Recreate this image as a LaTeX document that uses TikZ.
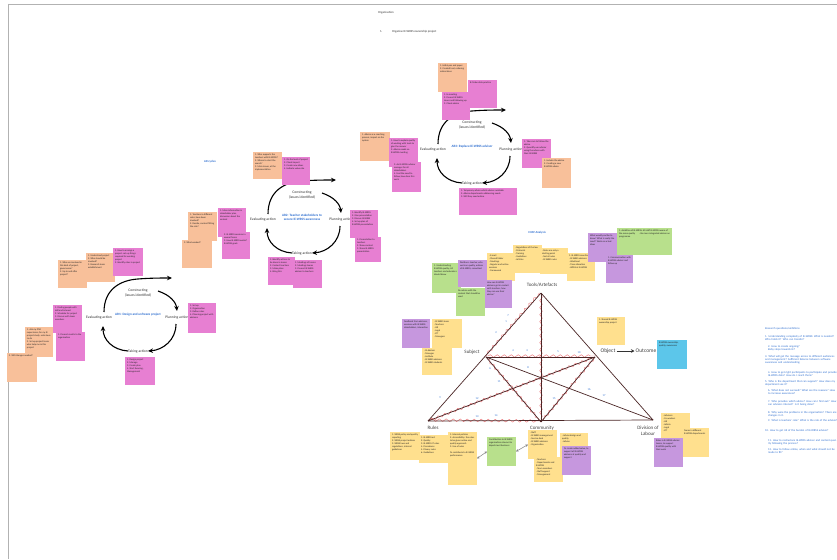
\documentclass[tikz,border=0pt]{standalone}
\usepackage{fontspec}
\setmainfont{Carlito}
\usetikzlibrary{arrows.meta,decorations.pathmorphing}
\definecolor{orangen}{HTML}{F8C09A}
\definecolor{pinkn}{HTML}{E77FD2}
\definecolor{yellown}{HTML}{FFE08E}
\definecolor{greenn}{HTML}{B8E08C}
\definecolor{purplen}{HTML}{C697DE}
\definecolor{bluen}{HTML}{5CC6EA}
\definecolor{bluetext}{HTML}{2F6FD0}
\definecolor{edgec}{HTML}{4A2626}
\definecolor{wavec}{HTML}{E8585C}
\tikzset{
 sticky/.style={inner sep=2pt, outer sep=0pt, anchor=north west, font=\fontsize{2.4}{2.9}\selectfont, text=black!85},
 cyclbl/.style={font=\fontsize{3.7}{4.3}\selectfont, text=black!80, align=center, inner sep=0.5pt},
 arlbl/.style={font=\bfseries\fontsize{3.3}{3.9}\selectfont, text=bluetext, align=center},
 cycarrow/.style={line width=1.1pt, -{Stealth[length=5pt,width=4.5pt]}},
 edgeln/.style={draw=edgec, line width=0.7pt},
 wave/.style={draw=wavec, line width=0.45pt, opacity=0.8, decorate, decoration={snake, amplitude=1.3pt, segment length=7pt, pre length=2pt, post length=2pt}},
 trilbl/.style={font=\fontsize{5}{6}\selectfont, text=black!75, align=center, inner sep=1pt},
 numlbl/.style={font=\fontsize{2.8}{3}\selectfont, text=bluetext, inner sep=0pt},
 rq/.style={font=\fontsize{2.8}{3.4}\selectfont, text=bluetext, anchor=north west, align=left, text width=70pt, inner sep=0pt},
 smalltxt/.style={font=\fontsize{3}{3.6}\selectfont, text=black!80, anchor=west, inner sep=0pt},
 bluehead/.style={font=\bfseries\fontsize{3}{3.6}\selectfont, text=bluetext, inner sep=0pt},
 dbl/.style={{Stealth[length=2.5pt,width=2.5pt]}-{Stealth[length=2.5pt,width=2.5pt]}, draw=gray, line width=0.5pt},
 arcycle/.pic={
  \node[cyclbl] (-con) at (0,-25) {Constructing\\(issues identified)};
  \node[cyclbl] (-plan) at (39,0) {Planning action};
  \node[cyclbl] (-take) at (0,34) {Taking action};
  \node[cyclbl] (-eval) at (-39,0) {Evaluating action};
  \node[arlbl] (-ar) at (0,-3) {#1};
  \draw[cycarrow] (-34,-6) .. controls (-34,-30) and (-16,-38) .. (0,-39) .. controls (12,-40) and (24,-40) .. (34,-40);
  \draw[cycarrow] (20,-27) .. controls (32,-23) and (38,-16) .. (39,-7);
  \draw[cycarrow] (38,6) .. controls (38,22) and (25,32) .. (10,33);
  \draw[cycarrow] (-10,33) .. controls (-25,32) and (-35,22) .. (-35,8);
 }
}
\newcommand{\sticky}[7]{\node[sticky, fill=#6] (#1) at (#2,#3) {\parbox[b][\dimexpr#5pt-4pt\relax][t]{\dimexpr#4pt-4pt\relax}{\raggedright #7}};}
\begin{document}
\begin{tikzpicture}[x=1pt,y=-1pt]
\useasboundingbox (0,0) rectangle (837,559);
\fill[white] (0,0) rectangle (837,559);
\draw[gray!60, line width=0.6pt] (8,4) -- (837,4);
\draw[gray!60, line width=0.6pt] (8,4) -- (8,559);

% title
\node[smalltxt] (title) at (378,13) {Organisation};
\node[smalltxt] (t1n) at (380,32) {1.};
\node[smalltxt] (t1) at (392,32) {Organise IE-WRSS ownership project};
\node[bluehead] (arc) at (210,162) {AR cycles};
\node[bluehead] (chat) at (537,233) {CHAT Analysis};

% ---------- cycles
\pic (c3) at (472,150) {arcycle={AR3: Replace IE-WRSS advisor}};
\pic (c2) at (302,220) {arcycle={AR2: Teacher stakeholders to\\secure IE-WRSS awareness}};
\pic (c1) at (138,318) {arcycle={AR1: Design and unfreeze project}};

% ---------- notes, cycle 3
\sticky{o1}{438}{63}{29}{29}{orangen}{1. Initial pen and paper\\2. Created tool, ordering online ideas}
\sticky{p1}{468}{80}{29}{28}{pinkn}{B. Make data practice}
\sticky{p2}{442}{92}{28}{28}{pinkn}{1. In meeting\\2. Present IE-WRSS issues and following up\\3. Check advice}
\sticky{o2}{360}{132}{30}{29}{orangen}{1. Advice as a coaching process, impact on the system}
\sticky{p3}{389}{138}{29}{29}{pinkn}{1. How to explain quality of working with tools to give the answer\\2. Advice needs no IE-WRSS meeting}
\sticky{p4}{392}{162}{29}{30}{pinkn}{3. An IE-WRSS advisor manager for all stakeholders\\4. Feel the need to follow, how does this work}
\sticky{p5}{522}{139}{29}{29}{pinkn}{1. Take care to follow the advice\\2. Quantify use advisor using the advice with their IE-WRSS}
\sticky{o3}{542}{158}{29}{30}{orangen}{1. Include the advice\\2. Creating a new IE-WRSS advice}
\sticky{p6}{459}{188}{58}{27}{pinkn}{1. Temporary advice which advisor available\\2. Advice departments addressing needs\\3. Will they need advise}

% ---------- notes, cycle 2
\sticky{o4}{253}{152}{29}{27}{orangen}{1. Who supports the teachers with IE-WRSS?\\2. Where to start the search?\\3. Main issues, at the implementation}
\sticky{p7}{282}{157}{28}{28}{pinkn}{1. On the level of project\\2. Check impact\\3. Create new ideas\\4. Indicate value role}
\sticky{o5}{188}{212}{29}{29}{orangen}{1. Teachers in different roles, have been involved?\\2. Decide, content fitting the role?}
\sticky{o6}{182}{240}{30}{28}{orangen}{3. What worked?}
\sticky{p8}{218}{208}{28}{29}{pinkn}{1. More information in stakeholder plan, discussion about the content}
\sticky{p9}{222}{232}{28}{27}{pinkn}{2. IE-WRSS sessions in several forms\\3. How IE-WRSS works? IE-WRSS goals}
\sticky{p10}{350}{210}{28}{28}{pinkn}{1. Identify IE-WRSS\\2. Give presentation\\3. Discuss IE-WRSS\\4. Set up plan of IE-WRSS presentation}
\sticky{p11}{355}{237}{26}{25}{pinkn}{1. Presentation to teachers\\2. Show content\\3. Share IE-WRSS presentation}
\sticky{p12}{268}{257}{27}{28}{pinkn}{1. Identify actions to be done in teams\\2. Contact teachers\\3. Make plans\\4. Bring this}
\sticky{p13}{293}{260}{29}{28}{pinkn}{1. Meetings of teams\\2. Meetings teams\\3. Present IE-WRSS advisor to teachers}

% ---------- notes, cycle 1
\sticky{o7}{58}{260}{29}{28}{orangen}{1. Who are involved in this kind of project, governance?\\2. Up to and after project?}
\sticky{o8}{86}{253}{29}{29}{orangen}{1. Understand project\\2. Who should be involved?\\3. Research team establishment}
\sticky{p14}{113}{248}{30}{28}{pinkn}{1. How to arrange a project: set up things required for working project\\2. Identify roles in project}
\sticky{o9}{25}{327}{28}{30}{orangen}{1. Ask my PhD supervisors; for my IE project study: who have to do\\2. Set up project team: who help me in this project}
\sticky{p15}{53}{305}{29}{28}{pinkn}{1. Finding people with skill and interest\\2. Schedule for project\\3. Discuss with team members}
\sticky{p16}{56}{332}{29}{29}{pinkn}{1. Present results to the organisation}
\sticky{o10}{7}{353}{30}{29}{orangen}{3. Will changes needed?}
\sticky{p17}{125}{357}{30}{28}{pinkn}{1. Design project\\2. Manage\\3. Create plan\\4. Start Running, Management}
\sticky{p18}{188}{303}{28}{30}{pinkn}{1. Set up\\2. Organisation\\3. Define roles\\4. Planning project with advisors}

% ---------- notes, CHAT
\sticky{g1}{432}{263}{29}{30}{greenn}{1. Understanding IE-WRSS quality; All teachers and educators should know}
\sticky{u1}{458}{260}{29}{27}{purplen}{Positions: teacher, who work on quality, advisor of IE-WRSS, consultant}
\sticky{g2}{456}{288}{29}{28}{greenn}{Do advice with the content that should be used}
\sticky{y1}{487}{253}{28}{28}{yellown}{- E-mail\\- Shared folder\\- Meetings\\- Regular and online sessions\\- Framework}
\sticky{u2}{485}{280}{27}{28}{purplen}{How can IE-WRSS advisors get in contact with teachers, how they can use their advice?}
\sticky{y2}{513}{245}{29}{28}{yellown}{- Regulations of the law\\- Protocols\\- Training\\- Guidelines\\- Articles}
\sticky{y3}{540}{248}{28}{26}{yellown}{- Rules are only a starting point\\- Not all rules\\- IE-WRSS rules}
\sticky{y4}{567}{253}{28}{28}{yellown}{1. IE-WRSS coordinators\\- IE-WRSS advisors\\- Workload\\- Time allocation\\- WRSS at IE-WRSS}
\sticky{u3}{588}{233}{29}{29}{purplen}{What would you like to know? What is really the need? Work on actual ideas}
\sticky{u4}{606}{255}{27}{28}{purplen}{1. Communication with IE-WRSS advisor and follow up}
\sticky{g3}{617}{228}{55}{27}{greenn}{1. Ambition of IE-WRSS: All staff IE-WRSS aware of the same quality\hfill- Be more integrated advisor on programme}

% ---------- notes, triangle
\sticky{u5}{402}{319}{28}{29}{purplen}{Feedback from advisors, sessions with IE-WRSS stakeholders, interactive}
\sticky{y5}{432}{319}{30}{29}{yellown}{- IE-WRSS team\\- Teachers\\- HR\\- Legal\\- ICT\\- Managers}
\sticky{y6}{422}{348}{30}{27}{yellown}{- IE-Advisor\\- Manager\\- Institute\\- IE-WRSS advisors\\- IE-WRSS students}
\sticky{y7}{597}{317}{28}{28}{yellown}{1. Shared IE-WRSS ownership project}
\sticky{b1}{657}{340}{30}{29}{bluen}{IE-WRSS ownership, quality, awareness}
\sticky{y8}{390}{432}{30}{28}{yellown}{1. WRSS policy and quality reporting\\2. WRSS project advisor\\3. WRSS laws and regulations, internal guidelines}
\sticky{y9}{419}{435}{29}{28}{yellown}{1. IE-WRSS act\\2. Quality\\3. IE-WRSS IT rules\\4. Procedures\\5. Privacy rules\\6. Guidelines}
\sticky{y10}{448}{432}{29}{53}{yellown}{1. Internal policies\\2. Accessibility: the rules to be given online and quality approach\\3. Use of rules\\[3pt]To contribute to IE-WRSS performance}
\sticky{g4}{487}{437}{29}{29}{greenn}{Contribution to IE-WRSS organisation relevant to department business}
\sticky{y11}{528}{430}{29}{29}{yellown}{- Staff\\- IE-WRSS management\\- Service desk\\- IE-WRSS advisors\\- Organisation}
\sticky{y12}{534}{457}{29}{25}{yellown}{- Teachers\\- Departments and IE-WRSS\\- Team members\\- Staff support\\- Management}
\sticky{y13}{560}{433}{28}{28}{yellown}{- Advise design and quality\\- Advise}
\sticky{u6}{562}{446}{29}{29}{purplen}{To create added value, to support all IE-WRSS advisors at quality and support}
\sticky{y14}{661}{413}{29}{28}{yellown}{- Advisors\\- Co-workers\\- HR\\- Admin\\- Legal\\- ICT}
\sticky{y15}{682}{428}{27}{29}{yellown}{Teams in different IE-WRSS departments}
\sticky{u7}{654}{438}{29}{29}{purplen}{Roles in IE-WRSS advisor teams, to support IE-WRSS quality with their work}

\draw[dbl] (y10.east) -- (g4.west);
\draw[dbl] (g4.east) -- (y11.west);

% ---------- activity triangle
\coordinate (T) at (541,293);
\coordinate (S) at (486,357);
\coordinate (O) at (595,357);
\coordinate (R) at (428,421);
\coordinate (C) at (541,422);
\coordinate (D) at (653,420);

\draw[wave] (T) -- (C);
\draw[wave] ([xshift=-1.5pt]T) -- ([xshift=-1.5pt]S);
\draw[wave] ([yshift=1pt]S) -- ([yshift=1pt]O);
\draw[wave] ([yshift=1pt]R) -- ([yshift=1pt]C);
\draw[wave] (S) -- (C);
\draw[wave] (O) -- (C);
\draw[wave] (R) -- (O);

\draw[edgeln] (T) -- (R);
\draw[edgeln] (T) -- (D);
\draw[edgeln] (R) -- (D);
\draw[edgeln] (T) -- (C);
\draw[edgeln] (S) -- (O);
\draw[edgeln] (S) -- (C);
\draw[edgeln] (O) -- (C);
\draw[edgeln] (R) -- (O);
\draw[edgeln] (S) -- (D);

\node[trilbl] (tools) at (542,285) {Tools/Artefacts};
\node[trilbl] (subj) at (472,352) {Subject};
\node[trilbl, font=\fontsize{5.5}{6.5}\selectfont] (obj) at (608,351) {Object};
\node[trilbl, font=\fontsize{5.5}{6.5}\selectfont] (outc) at (646,351) {Outcome};
\draw[-{Stealth[length=3.5pt,width=3.5pt]}, line width=0.8pt, black!80] (obj) -- (outc);
\node[trilbl] (rules) at (433,428) {Rules};
\node[trilbl] (comm) at (542,428) {Community};
\node[trilbl] (divl) at (648,431) {Division of\\Labour};

% blue numbers on the edges
\node[numlbl] (n1) at (508,316) {7};
\node[numlbl] (n2) at (506,322) {1};
\node[numlbl] (n3) at (496,333) {2};
\node[numlbl] (n4) at (513,351) {4};
\node[numlbl] (n5) at (527,351) {3};
\node[numlbl] (n6) at (558,352) {5};
\node[numlbl] (n7) at (579,353) {10};
\node[numlbl] (n8) at (490,369) {6};
\node[numlbl] (n9) at (499,382) {11};
\node[numlbl] (n10) at (528,368) {8};
\node[numlbl] (n11) at (440,398) {9};
\node[numlbl] (n12) at (477,399) {12};
\node[numlbl] (n13) at (477,417) {13};
\node[numlbl] (n14) at (496,416) {14};
\node[numlbl] (n15) at (554,399) {15};
\node[numlbl] (n16) at (589,390) {16};
\node[numlbl] (n17) at (604,396) {17};

% ---------- research questions
\node[rq] (rq0) at (765,327) {Research questions/ambitions};
\node[rq] (rq1) at (765,335) {1. Understanding complexity of IE-WRSS: What is needed? Who holds it? Who can transfer?};
\node[rq] (rq2) at (768,345) {2. How to create ongoing?\\Baby steps towards IE?};
\node[rq] (rq3) at (765,355) {3. What will get the message across to different audiences and management? Sufficient balance between software awareness and understanding};
\node[rq] (rq4) at (768,371) {4. How to get right participants to participate and provide IE-WRSS data? How do I reach them?};
\node[rq] (rq5) at (765,380) {5. Who is the department that can support? How does my department see it?};
\node[rq] (rq6) at (768,389) {6. What does not succeed? What are the reasons? How to increase awareness?};
\node[rq] (rq7) at (768,400) {7. Who provides which advice? How can I find out? How can advisors interact? Is it being done?};
\node[rq] (rq8) at (768,411) {8. Why were the problems in the organisation? There are changes in it.};
\node[rq] (rq9) at (768,419) {9. What is teachers' role? What is the role of the advisor?};
\node[rq] (rq10) at (765,429) {10. How to get rid of the burden of IE-WRSS advisor?};
\node[rq] (rq11) at (768,439) {11. How to restructure IE-WRSS advisor and content quality following the process?};
\node[rq] (rq12) at (768,448) {12. How to follow online, when and what should not be made to fit?};
\end{tikzpicture}
\end{document}
